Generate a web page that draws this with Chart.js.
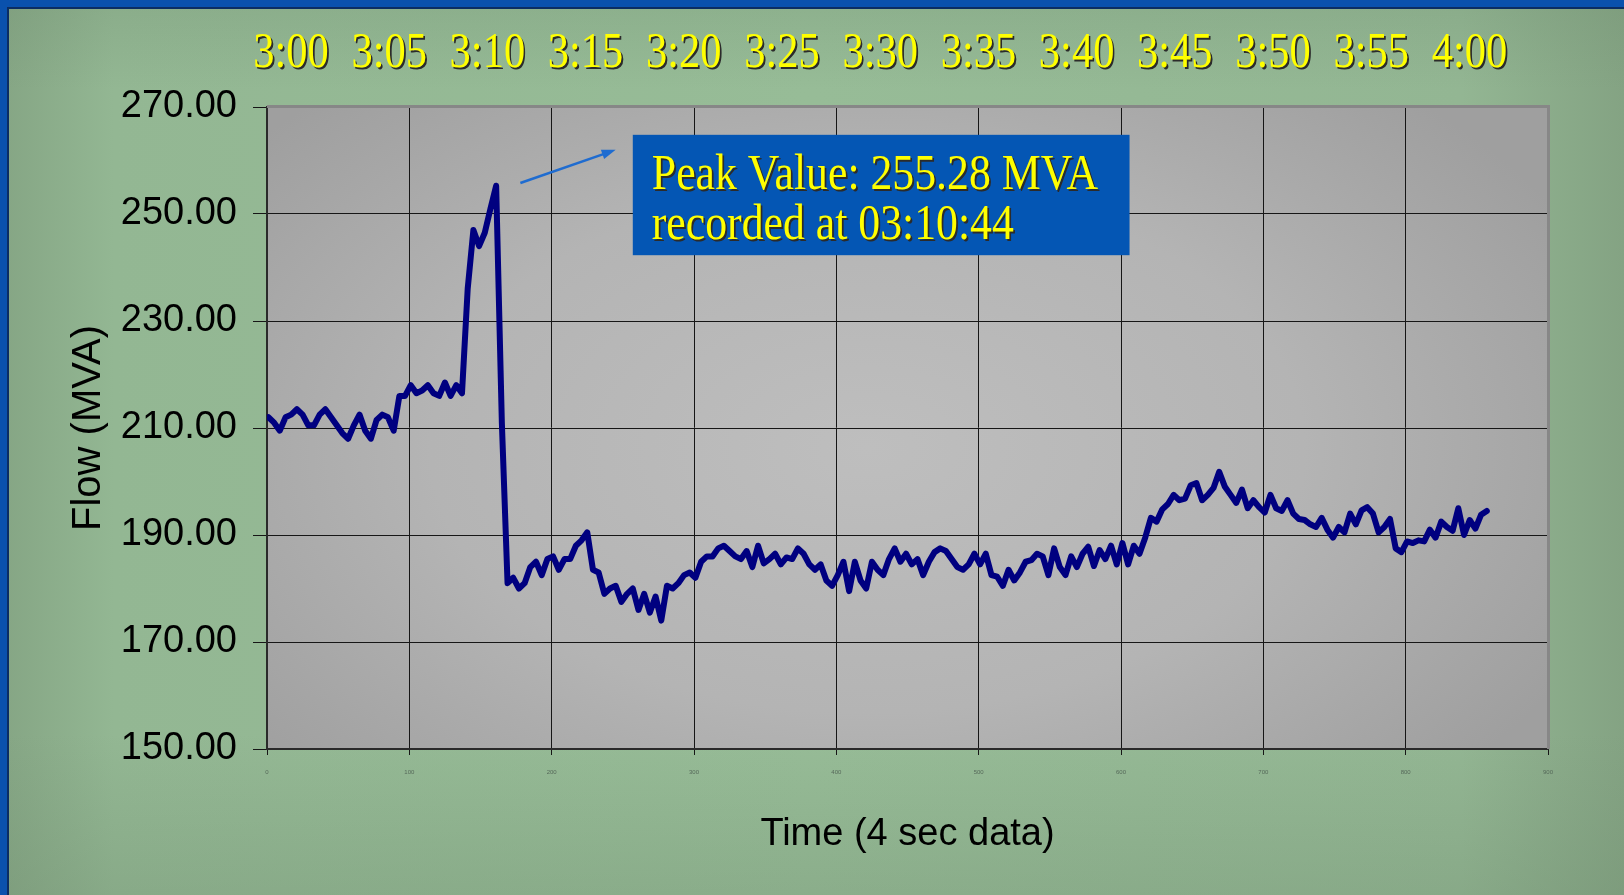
<!DOCTYPE html>
<html>
<head>
<meta charset="utf-8">
<title>Flow (MVA)</title>
<script src="https://cdn.jsdelivr.net/npm/chart.js@4.4.1/dist/chart.umd.min.js"></script>
<style>
  html, body { margin: 0; padding: 0; background: #8fb28f; overflow: hidden; }
  canvas { display: block; }
</style>
</head>
<body>
<canvas id="flowChart" width="1624" height="895"></canvas>
<script>
// 4 sec samples, one reading kept every 4th sample starting at sample 1
const FIRST_SAMPLE = 1;
const SAMPLE_STEP = 4;
const SECONDS_PER_SAMPLE = 4;

const flowMva = [
  212, 211, 209.5, 212, 212.5, 213.5, 212.5, 210.5, 210.5, 212.5,
  213.5, 212, 210.5, 209, 208, 210.5, 212.5, 209.5, 208, 211.5,
  212.5, 212, 209.5, 216, 216, 218, 216.5, 217, 218, 216.5,
  216, 218.5, 216, 218, 216.5, 236, 247, 244, 246.5, 251,
  255.28, 211, 181, 182, 180, 181, 184, 185, 182.5, 185.5,
  186, 183.5, 185.5, 185.5, 188, 189, 190.5, 183.5, 183, 179,
  180, 180.5, 177.5, 179, 180, 176, 179, 175.5, 178.5, 174,
  180.5, 180, 181, 182.5, 183, 182, 185, 186, 186, 187.5,
  188, 187, 186, 185.5, 187, 184, 188, 184.7, 185.5, 186.5,
  184.5, 185.8, 185.5, 187.5, 186.5, 184.5, 183.5, 184.5, 181.5, 180.5,
  182.5, 185, 179.5, 185, 181.5, 180, 185, 183.5, 182.5, 185.5,
  187.5, 185, 186.5, 184.5, 185.5, 182.5, 185, 186.8, 187.5, 187,
  185.5, 184, 183.5, 184.5, 186.5, 184.5, 186.5, 182.5, 182.2, 180.5,
  183.5, 181.5, 183, 185, 185.3, 186.5, 186, 182.5, 187.5, 184,
  182.5, 186, 184, 186.5, 187.8, 184.2, 187.2, 185.5, 188, 184.5,
  188.5, 184.5, 188, 186.5, 189.5, 193.2, 192.5, 194.8, 195.8, 197.5,
  196.5, 196.8, 199.3, 199.7, 196.5, 197.5, 198.8, 201.8, 199, 197.5,
  196, 198.5, 195, 196.5, 195.2, 194.2, 197.5, 195, 194.5, 196.5,
  194, 193, 192.8, 192, 191.5, 193.2, 191, 189.5, 191.5, 190.5,
  194, 192, 194.6, 195.2, 194, 190.5, 191.5, 193, 187.5, 186.8,
  188.8, 188.5, 189, 188.8, 191, 189.5, 192.5, 191.5, 190.8, 195,
  190, 192.8, 191.2, 193.8, 194.5
];

const timeLabels = ["3:00", "3:05", "3:10", "3:15", "3:20", "3:25", "3:30",
                    "3:35", "3:40", "3:45", "3:50", "3:55", "4:00"];

const SANS = '"Liberation Sans", Arial, sans-serif';
const SERIF = '"Liberation Serif", "Times New Roman", serif';

// peak info for the callout
const peakIndex = flowMva.indexOf(Math.max(...flowMva));
const peakSample = FIRST_SAMPLE + peakIndex * SAMPLE_STEP;
const peakSecs = peakSample * SECONDS_PER_SAMPLE;
const pad2 = n => String(n).padStart(2, "0");
const peakTime = "03:" + pad2(Math.floor(peakSecs / 60)) + ":" + pad2(peakSecs % 60);
const calloutLines = [
  "Peak Value: " + flowMva[peakIndex].toFixed(2) + " MVA",
  "recorded at " + peakTime
];

function shadowText(ctx, text, x, y, sx) {
  ctx.save();
  ctx.translate(x, y);
  ctx.scale(sx, 1);
  ctx.fillStyle = "#2b2b2b";
  ctx.fillText(text, 2, 2);
  ctx.fillStyle = "#ffff00";
  ctx.fillText(text, 0, 0);
  ctx.restore();
}

const backdrop = {
  id: "backdrop",
  beforeDraw(chart) {
    const { ctx, width, height, chartArea: a } = chart;
    ctx.save();
    // green slide
    let g = ctx.createLinearGradient(0, 0, width, 0);
    g.addColorStop(0, "#85a584");
    g.addColorStop(0.07, "#93b793");
    g.addColorStop(0.5, "#97bc97");
    g.addColorStop(0.9, "#93b693");
    g.addColorStop(1, "#84a383");
    ctx.fillStyle = g;
    ctx.fillRect(0, 0, width, height);
    g = ctx.createLinearGradient(0, 0, 0, height);
    g.addColorStop(0, "rgba(110,140,110,0.25)");
    g.addColorStop(0.1, "rgba(110,140,110,0)");
    g.addColorStop(0.82, "rgba(110,140,110,0)");
    g.addColorStop(1, "rgba(110,140,110,0.3)");
    ctx.fillStyle = g;
    ctx.fillRect(0, 0, width, height);

    // blue frame top and left
    ctx.fillStyle = "#0a51ad";
    ctx.fillRect(0, 0, width, 7);
    ctx.fillRect(0, 0, 7, height);
    ctx.fillStyle = "#0b2d63";
    ctx.fillRect(7, 7, width, 2);
    ctx.fillRect(7, 7, 2, height);

    // plot area, grey with lighter centre
    const cx = (a.left + a.right) / 2 - 40, cy = (a.top + a.bottom) / 2 + 20;
    const rx = (a.right - a.left) * 0.62, ry = (a.bottom - a.top) * 0.75;
    ctx.beginPath();
    ctx.rect(a.left, a.top, a.right - a.left, a.bottom - a.top);
    ctx.clip();
    ctx.translate(cx, cy);
    ctx.scale(1, ry / rx);
    g = ctx.createRadialGradient(0, 0, 0, 0, 0, rx);
    g.addColorStop(0, "#bebebe");
    g.addColorStop(0.55, "#b4b4b4");
    g.addColorStop(1, "#9f9f9f");
    ctx.fillStyle = g;
    ctx.fillRect(-rx * 2, -rx * 2, rx * 4, rx * 4);
    ctx.restore();
  },
  afterDraw(chart) {
    const { ctx, chartArea: a, scales } = chart;
    const x = scales.x, y = scales.y, top = scales.x2;
    ctx.save();
    // raised edge of the plot area
    ctx.fillStyle = "#878787";
    ctx.fillRect(a.left, a.top - 2, a.right - a.left + 2, 3);
    ctx.fillRect(a.right - 1, a.top - 2, 3, a.bottom - a.top + 2);

    // time labels across the top
    ctx.font = "50px " + SERIF;
    ctx.textAlign = "center";
    ctx.textBaseline = "middle";
    timeLabels.forEach((t, i) => shadowText(ctx, t, top.getPixelForValue(i), 54, 0.85));

    // callout box
    const bx0 = x.getPixelForValue(257), bx1 = x.getPixelForValue(606);
    const by0 = y.getPixelForValue(264.8), by1 = y.getPixelForValue(242.3);
    ctx.fillStyle = "#0456b4";
    ctx.fillRect(bx0, by0, bx1 - bx0, by1 - by0);
    ctx.textAlign = "left";
    shadowText(ctx, calloutLines[0], bx0 + 19, by0 + 41, 0.875);
    shadowText(ctx, calloutLines[1], bx0 + 19, by0 + 91, 0.875);

    // arrow from the peak towards the box
    const ax0 = x.getPixelForValue(178), ay0 = y.getPixelForValue(255.8);
    const ax1 = x.getPixelForValue(245), ay1 = y.getPixelForValue(262);
    const ang = Math.atan2(ay1 - ay0, ax1 - ax0);
    ctx.strokeStyle = "#1f6cd0";
    ctx.fillStyle = "#1f6cd0";
    ctx.lineWidth = 2.5;
    ctx.beginPath();
    ctx.moveTo(ax0, ay0);
    ctx.lineTo(ax1 - 10 * Math.cos(ang), ay1 - 10 * Math.sin(ang));
    ctx.stroke();
    ctx.beginPath();
    ctx.moveTo(ax1, ay1);
    ctx.lineTo(ax1 - 14 * Math.cos(ang) + 5 * Math.sin(ang), ay1 - 14 * Math.sin(ang) - 5 * Math.cos(ang));
    ctx.lineTo(ax1 - 14 * Math.cos(ang) - 5 * Math.sin(ang), ay1 - 14 * Math.sin(ang) + 5 * Math.cos(ang));
    ctx.closePath();
    ctx.fill();
    ctx.restore();
  }
};

const ctx = document.getElementById("flowChart").getContext("2d");

new Chart(ctx, {
  type: "line",
  data: {
    datasets: [{
      label: "Flow",
      data: flowMva.map((v, i) => ({ x: FIRST_SAMPLE + i * SAMPLE_STEP, y: v })),
      borderColor: "#000080",
      borderWidth: 6,
      borderJoinStyle: "round",
      borderCapStyle: "round",
      pointRadius: 0,
      tension: 0,
      fill: false
    }]
  },
  options: {
    responsive: false,
    animation: false,
    events: [],
    layout: { padding: { left: 0, right: 76, top: 0, bottom: 0 } },
    plugins: { legend: { display: false }, tooltip: { enabled: false } },
    scales: {
      x: {
        type: "linear",
        position: "bottom",
        min: 0,
        max: 900,
        ticks: { stepSize: 100, autoSkip: false, maxRotation: 0, font: { size: 6, family: SANS }, color: "#56695a", padding: 14 },
        grid: { color: "#161616", lineWidth: 1, tickLength: 6 },
        border: { color: "#2a2a2a", width: 2 },
        title: { display: true, text: "Time (4 sec data)", color: "#000", font: { size: 38, family: SANS }, padding: { top: 0, bottom: 38 } },
        afterFit: s => { s.height = 146; }
      },
      x2: {
        type: "linear",
        position: "top",
        min: -0.244,
        max: 12.8,
        ticks: { display: false },
        grid: { display: false },
        border: { display: false },
        afterFit: s => { s.height = 107; }
      },
      y: {
        min: 150,
        max: 270,
        ticks: { stepSize: 20, callback: v => v.toFixed(2), font: { size: 38, family: SANS }, color: "#000", padding: 16 },
        grid: { color: "#161616", lineWidth: 1, tickLength: 14 },
        border: { color: "#2a2a2a", width: 2 },
        title: { display: true, text: "Flow (MVA)", color: "#000", font: { size: 40, family: SANS }, padding: { top: 65, bottom: 0 } },
        afterFit: s => { s.width = 267; }
      }
    }
  },
  plugins: [backdrop]
});
</script>
</body>
</html>
